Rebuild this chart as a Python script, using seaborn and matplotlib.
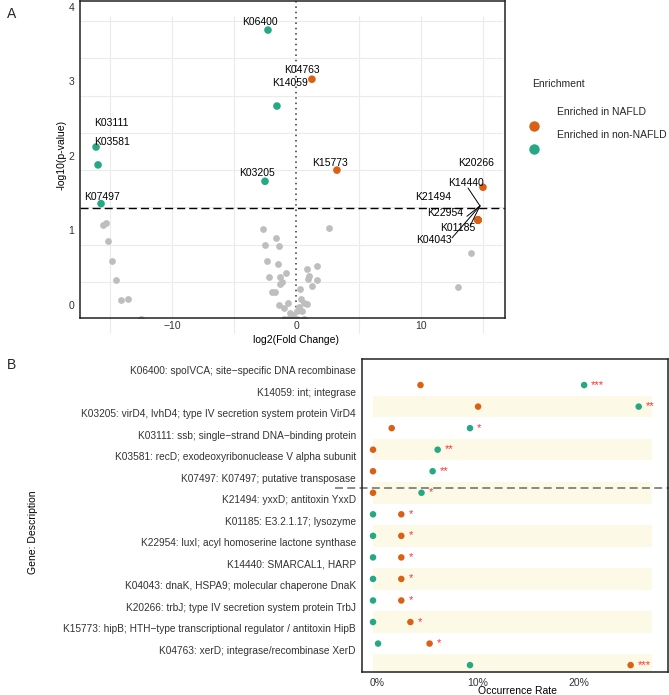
import numpy as np
import pandas as pd
import matplotlib
matplotlib.use("Agg")
import matplotlib.pyplot as plt
import seaborn as sns
from matplotlib.lines import Line2D

sns.set_style("white")
plt.rcParams['font.family'] = ['Liberation Sans', 'DejaVu Sans']

ORANGE = "#DA6014"
GREEN = "#25A883"
GREY = "#BEBEBE"
TXT = "#333333"

# ---- panel A: volcano data ----
sig_genes = ["K06400", "K14059", "K03111", "K03581", "K03205", "K07497",
             "K04763", "K15773", "K20266", "K14440", "K21494", "K22954",
             "K01185", "K04043"]
sig_fc = [-2.29, -1.57, -16.10, -15.94, -2.53, -15.70,
          1.24, 3.25, 14.98, 14.58, 14.58, 14.58, 14.58, 14.58]
sig_logp = [3.69, 2.67, 2.12, 1.88, 1.66, 1.36,
            3.03, 1.81, 1.58, 1.14, 1.14, 1.14, 1.14, 1.14]
sig_group = ["Enriched in non-NAFLD"] * 6 + ["Enriched in NAFLD"] * 8
label_x = [-2.93, -0.52, -14.90, -14.82, -3.17, -15.62,
           0.44, 2.69, 14.42, 13.61, 10.96, 11.93, 12.97, 11.04]
label_y = [3.80, 2.98, 2.44, 2.19, 1.77, 1.45,
           3.15, 1.91, 1.91, 1.64, 1.45, 1.23, 1.03, 0.87]

ns_fc = [-15.30, -15.54, -15.14, -14.82, -14.50, -14.10, -13.53, -12.49,
         -2.69, -1.65, -2.53, -1.41, -2.37, -1.49, -0.84, -2.21, -1.33, -1.16,
         -1.33, -1.97, -1.73, -1.41, -0.68, -1.00, -0.52, -0.28, -1.00, -0.68,
         -0.28, 0.04, 0.60, 0.84, 1.65, 1.00, 0.92, 1.65, 1.24, 0.28, 0.36,
         0.60, 0.84, 0.20, 0.04, 0.44, 2.61, 14.02, 12.97]
ns_logp = [1.10, 1.07, 0.86, 0.59, 0.34, 0.07, 0.08, -0.19,
           1.02, 0.90, 0.81, 0.79, 0.59, 0.55, 0.43, 0.38, 0.38, 0.31,
           0.28, 0.17, 0.17, 0.00, 0.03, -0.04, -0.11, -0.13, -0.19, -0.19,
           -0.19, -0.19, -0.19, 0.48, 0.52, 0.39, 0.35, 0.34, 0.26, 0.21, 0.08,
           0.03, 0.01, -0.03, -0.08, -0.08, 1.03, 0.70, 0.24]

# ---- panel B: occurrence rates (%) ----
genes = [
    "K06400: spoIVCA; site\u2212specific DNA recombinase",
    "K14059: int; integrase",
    "K03205: virD4, lvhD4; type IV secretion system protein VirD4",
    "K03111: ssb; single\u2212strand DNA\u2212binding protein",
    "K03581: recD; exodeoxyribonuclease V alpha subunit",
    "K07497: K07497; putative transposase",
    "K21494: yxxD; antitoxin YxxD",
    "K01185: E3.2.1.17; lysozyme",
    "K22954: luxI; acyl homoserine lactone synthase",
    "K14440: SMARCAL1, HARP",
    "K04043: dnaK, HSPA9; molecular chaperone DnaK",
    "K20266: trbJ; type IV secretion system protein TrbJ",
    "K15773: hipB; HTH\u2212type transcriptional regulator / antitoxin HipB",
    "K04763: xerD; integrase/recombinase XerD",
]
nafld_rate = [4.7, 10.4, 1.85, 0.0, 0.0, 0.0, 2.8, 2.8, 2.8, 2.8, 2.8, 3.7, 5.6, 25.5]
non_nafld_rate = [20.9, 26.3, 9.6, 6.4, 5.9, 4.8, 0.0, 0.0, 0.0, 0.0, 0.0, 0.0, 0.5, 9.6]
stars = ["***", "**", "*", "**", "**", "*", "*", "*", "*", "*", "*", "*", "*", "***"]

palette = {"Enriched in NAFLD": ORANGE, "Enriched in non-NAFLD": GREEN}

W, H = 669, 695
def fx(px):
    return px / W
def fy(py):
    return 1 - py / H

fig = plt.figure(figsize=(W / 100, H / 100), dpi=100)

# ================= panel A =================
axA = fig.add_axes([fx(80), fy(318), (505 - 80) / W, 317 / H])
xlo, xhi = -17.39, 16.75
ylo, yhi = -0.175, 4.08

# background grid (offset like the original)
for gx in [-15, -5, 5, 15]:
    axA.plot([gx, gx], [-0.376, 3.88], color="#EBEBEB", lw=0.8, zorder=0, clip_on=False)
for gx in [-10, 10]:
    axA.plot([gx, gx], [ylo, 3.88], color="#EBEBEB", lw=0.8, zorder=0, clip_on=False)
for gy in np.arange(0.31, 4.0, 0.5):
    axA.plot([xlo, 16.5], [gy, gy], color="#EBEBEB", lw=0.8, zorder=0)

sns.scatterplot(x=ns_fc, y=ns_logp, color=GREY, s=24, linewidth=0, ax=axA,
                legend=False, zorder=2)
df_sig = pd.DataFrame({"fc": sig_fc, "logp": sig_logp, "group": sig_group})
sns.scatterplot(data=df_sig, x="fc", y="logp", hue="group", palette=palette,
                s=30, linewidth=0, ax=axA, legend=False, zorder=3)

axA.axvline(0, color="#333333", ls=(0, (1, 2.5)), lw=1.1, zorder=1)
axA.axhline(1.3, color="black", ls=(0, (5.8, 2.9)), lw=1.0, zorder=1)

for g, tx, ty in zip(sig_genes, label_x, label_y):
    axA.text(tx, ty, g, ha="center", va="center", fontsize=7.5, color="black", zorder=4)

# leader lines for the crowded right-hand labels
anchor = (14.74, 1.33)
for sx, sy in [(13.78, 1.57), (13.69, 1.19), (13.94, 1.06), (12.49, 0.90)]:
    axA.plot([sx, anchor[0]], [sy, anchor[1]], color="black", lw=0.7, zorder=4)

axA.set_xlim(xlo, xhi)
axA.set_ylim(ylo, yhi)
axA.set_xticks([-10, 0, 10])
axA.set_yticks([0, 1, 2, 3, 4])
axA.tick_params(length=0, labelsize=7.5, labelcolor=TXT)
axA.tick_params(axis="x", pad=2)
axA.tick_params(axis="y", pad=4)
axA.set_xlabel("")
axA.set_ylabel("")
for sp in axA.spines.values():
    sp.set_color("#222222")
    sp.set_linewidth(1.1)

fig.text(fx(62), fy(155), "-log10(p-value)", rotation=90, ha="center", va="center",
         fontsize=7.5, color="black")
fig.text(fx(296), fy(340), "log2(Fold Change)", ha="center", va="center",
         fontsize=7.5, color="black")

# legend (drawn by hand to follow the original layout)
fig.text(fx(532), fy(84), "Enrichment", ha="left", va="center", fontsize=7.5)
fig.text(fx(557), fy(112), "Enriched in NAFLD", ha="left", va="center", fontsize=7.5)
fig.text(fx(557), fy(135), "Enriched in non-NAFLD", ha="left", va="center", fontsize=7.5)
fig.add_artist(Line2D([fx(534)], [fy(126)], marker="o", color=ORANGE, markersize=7.5,
                      markeredgewidth=0, transform=fig.transFigure))
fig.add_artist(Line2D([fx(534)], [fy(149)], marker="o", color=GREEN, markersize=7.5,
                      markeredgewidth=0, transform=fig.transFigure))

# ================= panel B =================
axB = fig.add_axes([fx(362), fy(672), 306 / W, 313 / H])
rows = np.arange(len(genes))
label_shift = 0.7
band_right = 27.6

for i in rows[1::2]:
    axB.fill_betweenx([i - 0.5, i + 0.5], 0, band_right, color="#FCF9E6", lw=0, zorder=0)

long = pd.DataFrame({
    "row": np.concatenate([rows, rows]),
    "rate": nafld_rate + non_nafld_rate,
    "group": ["Enriched in NAFLD"] * len(rows) + ["Enriched in non-NAFLD"] * len(rows),
})
sns.scatterplot(data=long, x="rate", y="row", hue="group", palette=palette, s=22,
                linewidth=0, ax=axB, legend=False, zorder=3)

for r, a, b, st in zip(rows, nafld_rate, non_nafld_rate, stars):
    axB.text(max(a, b) + 0.7, r - 0.02, st, color="#FF3030", fontsize=8,
             ha="left", va="center", zorder=4)

axB.plot([-3.8, 29.3], [5.5 - label_shift, 5.5 - label_shift], color="#808080",
         ls=(0, (4.4, 2.4)), lw=1.3, clip_on=False, zorder=2)

axB.set_xlim(-1.09, 29.2)
axB.set_ylim(13.32, -1.21)
axB.set_yticks(rows - label_shift)
axB.set_yticklabels(genes)
axB.set_xticks([0.4, 10.4, 20.4])
axB.set_xticklabels(["0%", "10%", "20%"])
axB.tick_params(axis="y", length=2.5, width=0.6, color=TXT, labelsize=7.3, labelcolor=TXT, pad=2)
axB.tick_params(axis="x", length=0, labelsize=7.5, labelcolor=TXT, pad=4)
axB.set_xlabel("")
axB.set_ylabel("")
for sp in axB.spines.values():
    sp.set_color("#222222")
    sp.set_linewidth(1.1)

fig.text(fx(33), fy(532), "Gene: Description", rotation=90, ha="center", va="center",
         fontsize=7.5, color="black")
fig.text(fx(518), fy(691), "Occurrence Rate", ha="center", va="center",
         fontsize=7.5, color="black")

fig.text(fx(12), fy(14), "A", ha="center", va="center", fontsize=10)
fig.text(fx(12), fy(365), "B", ha="center", va="center", fontsize=10)

fig.savefig("out.png", dpi=100)
